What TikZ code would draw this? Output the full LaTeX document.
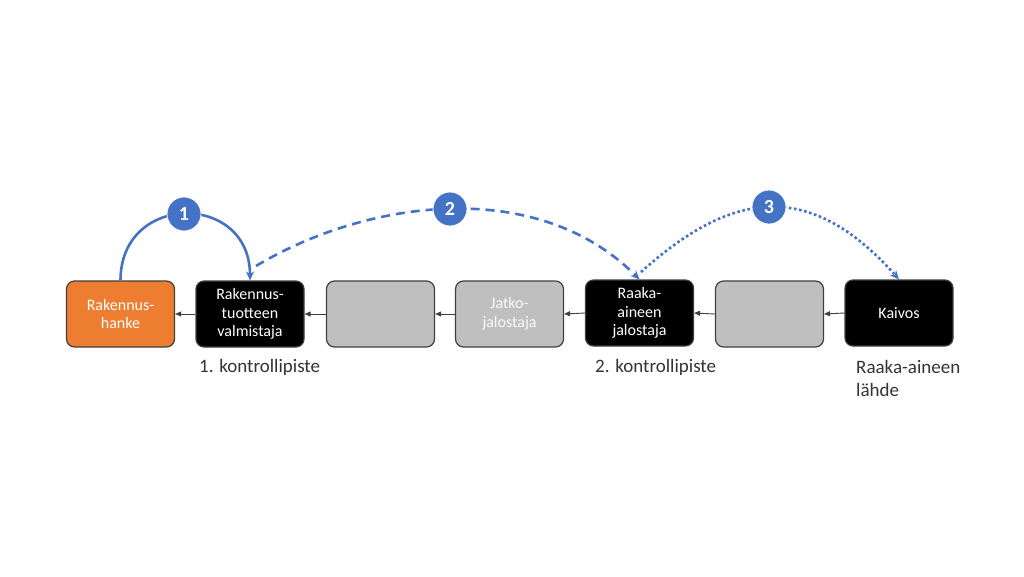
\documentclass[tikz,border=0pt]{standalone}
\usepackage{fontspec}
\setmainfont{Carlito}
\usetikzlibrary{arrows.meta}
\definecolor{blu}{HTML}{4472C4}
\definecolor{org}{HTML}{ED7D31}
\definecolor{gry}{HTML}{BFBFBF}
\definecolor{brd}{HTML}{404040}
\definecolor{lbl}{HTML}{333333}
\tikzset{
  box/.style={rounded corners=8pt, draw=brd, line width=1.2pt, minimum width=108pt, minimum height=66pt, inner sep=2pt, align=center, text=white, font=\fontsize{16}{18.5}\selectfont},
  blackbox/.style={box, fill=black},
  graybox/.style={box, fill=gry, text=white!92!gry},
  orangebox/.style={box, fill=org},
  flow/.style={draw=brd, line width=0.9pt, -{Triangle[length=6pt,width=5pt]}},
  arc/.style={draw=blu, line width=2.6pt, -{Stealth[length=9pt,width=8pt]}},
  num/.style={circle, fill=blu, draw=white, line width=0.8pt, minimum size=34pt, inner sep=0pt, text=white, font=\fontsize{20}{22}\selectfont\bfseries},
  lab/.style={anchor=west, text=lbl, align=left, inner sep=0pt, font=\fontsize{19}{23}\selectfont}
}
\begin{document}
\begin{tikzpicture}[x=1pt,y=-1pt]
\useasboundingbox[fill=white] (0,0) rectangle (1024,576);
\node[orangebox] (b1) at (120.5,314) {Rakennus-\\hanke};
\node[blackbox] (b2) at (250,314) {Rakennus-\\tuotteen\\valmistaja};
\node[graybox] (b3) at (380.5,314) {};
\node[graybox] (b4) at (509.5,314) {Jatko-\\jalostaja};
\node[blackbox] (b5) at (639.5,313) {Raaka-\\aineen\\jalostaja};
\node[graybox] (b6) at (769.5,314) {};
\node[blackbox] (b7) at (899,313) {Kaivos};
\draw[flow] (b2.west) -- (b1.east);
\draw[flow] (b3.west) -- (b2.east);
\draw[flow] (b4.west) -- (b3.east);
\draw[flow] (b5.west) -- (b4.east);
\draw[flow] (b6.west) -- (b5.east);
\draw[flow] (b7.west) -- (b6.east);
\node[lab] (l1) at (199,367) {1. kontrollipiste};
\node[lab] (l2) at (595,367) {2. kontrollipiste};
\node[lab] (l3) at (856,378.5) {Raaka-aineen\\lähde};
\coordinate (s2) at (256,266);
\coordinate (s3) at (641,272);
\draw[arc] (b1.north) .. controls (120.5,192) and (250,192) .. (b2.north);
\draw[arc, dash pattern=on 9pt off 6pt] (s2) .. controls (366,200) and (536,176) .. (b5.north);
\draw[arc, dash pattern=on 2.6pt off 2.6pt] (s3) .. controls (731,191) and (809,178) .. (b7.north);
\node[num] (n1) at (184,214) {1};
\node[num] (n2) at (450,209) {2};
\node[num] (n3) at (769,207) {3};
\end{tikzpicture}
\end{document}
